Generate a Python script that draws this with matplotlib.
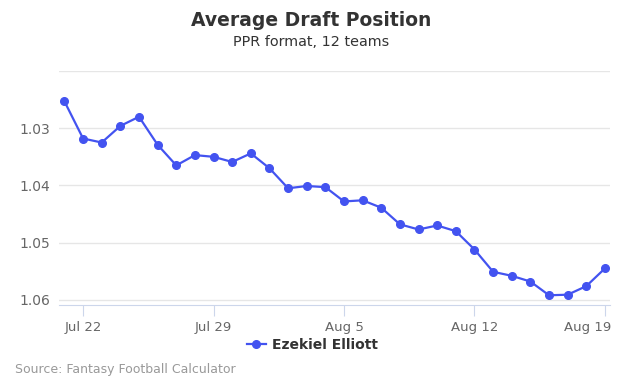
import matplotlib.pyplot as plt
import matplotlib.transforms as mtransforms
import pandas as pd

# ADP values, one per day from Jul 21 to Aug 19
dates = pd.date_range('2018-07-21', '2018-08-19', freq='D')
adp = [1.0253, 1.0318, 1.0325, 1.0296, 1.0280, 1.0329, 1.0365, 1.0347, 1.0350, 1.0359,
       1.0344, 1.0370, 1.0405, 1.0401, 1.0403, 1.0428, 1.0426, 1.0439, 1.0468, 1.0477,
       1.0470, 1.0480, 1.0512, 1.0551, 1.0558, 1.0568, 1.0592, 1.0591, 1.0576, 1.0545]
y_ticks = [1.02, 1.03, 1.04, 1.05, 1.06]
y_labels = ['', '1.03', '1.04', '1.05', '1.06']
x_ticks = pd.to_datetime(['2018-07-22', '2018-07-29', '2018-08-05', '2018-08-12', '2018-08-19'])
x_labels = ['Jul 22', 'Jul 29', 'Aug 5', 'Aug 12', 'Aug 19']

fig = plt.figure(figsize=(6.23, 3.89), dpi=100)
ax = fig.add_axes([59 / 623, 1 - 305 / 389, (610 - 59) / 623, (305 - 71) / 389])

ax.plot(dates, adp, '-o', color='#4353f0', lw=1.6, ms=5.5, label='Ezekiel Elliott')

ax.set_ylim(1.0609, 1.02)
ax.set_yticks(y_ticks)
ax.set_yticklabels(y_labels)
ax.set_xlim(pd.Timestamp('2018-07-20 17:00'), pd.Timestamp('2018-08-19 06:30'))
ax.set_xticks(x_ticks)
ax.set_xticklabels(x_labels)

ax.grid(axis='y', color='#e6e6e6', lw=1)
ax.set_axisbelow(True)
for side in ['top', 'right', 'left']:
    ax.spines[side].set_visible(False)
ax.spines['bottom'].set_color('#ccd6eb')
ax.tick_params(axis='y', length=0, labelsize=10, colors='#666666', pad=6)
ax.tick_params(axis='x', length=8, color='#ccd6eb', labelsize=9.5, labelcolor='#666666')

# keep the last date label inside the chart, like the original
last = ax.get_xticklabels()[-1]
last.set_horizontalalignment('right')
last.set_transform(last.get_transform() + mtransforms.ScaledTranslation(6 / 100, 0, fig.dpi_scale_trans))

fig.text(0.5, 1 - 20 / 389, 'Average Draft Position', ha='center', va='center',
         fontsize=13.5, fontweight='bold', color='#333333')
fig.text(0.5, 1 - 42 / 389, 'PPR format, 12 teams', ha='center', va='center',
         fontsize=10.4, color='#333333')
fig.text(15 / 623, 1 - 369 / 389, 'Source: Fantasy Football Calculator', ha='left', va='center',
         fontsize=9, color='#999999')

leg = fig.legend(loc='center', bbox_to_anchor=(312 / 623, 1 - 345 / 389), frameon=False,
                 prop={'weight': 'bold', 'size': 10}, handlelength=1.4, handletextpad=0.4)
for t in leg.get_texts():
    t.set_color('#333333')

plt.savefig('out.png', dpi=100)
